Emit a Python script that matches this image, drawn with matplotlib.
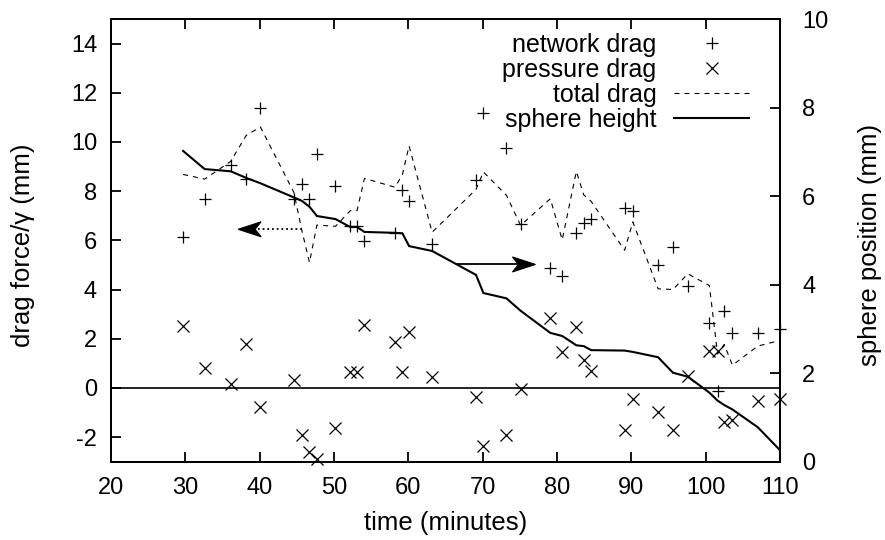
import matplotlib
matplotlib.use("Agg")
import matplotlib.pyplot as plt
from matplotlib.path import Path
from matplotlib.patches import PathPatch

plt.rcParams['font.family'] = ['Liberation Sans', 'DejaVu Sans']
plt.rcParams['axes.unicode_minus'] = False

# ---- data ----
time_min = [29.7, 32.6, 36.1, 38.2, 40.1, 44.6, 45.7, 46.7, 47.7, 50.2,
            52.2, 53.1, 54.1, 58.2, 59.2, 60.1, 63.2, 69.1, 70.1, 73.2,
            75.1, 79.1, 80.7, 82.6, 83.6, 84.6, 89.1, 90.2, 93.6, 95.6,
            97.6, 100.5, 101.6, 102.5, 103.6, 107.0, 110.0]
network_drag = [6.12, 7.68, 9.06, 8.50, 11.37, 7.68, 8.28, 7.68, 9.51, 8.21,
                6.58, 6.58, 5.96, 6.31, 8.04, 7.58, 5.85, 8.45, 11.16, 9.74,
                6.65, 4.86, 4.55, 6.31, 6.72, 6.88, 7.31, 7.20, 5.00, 5.71,
                4.14, 2.65, -0.13, 3.14, 2.22, 2.22, 2.39]
pressure_drag = [2.53, 0.81, 0.15, 1.77, -0.76, 0.32, -1.91, -2.62, -2.89, -1.64,
                 0.63, 0.63, 2.56, 1.85, 0.63, 2.26, 0.43, -0.38, -2.36, -1.91,
                 -0.04, 2.83, 1.47, 2.49, 1.13, 0.70, -1.71, -0.45, -0.97, -1.71,
                 0.50, 1.51, 1.51, -1.37, -1.30, -0.52, -0.46]
total_drag = [8.68, 8.49, 9.21, 10.27, 10.61, 7.95, 6.37, 5.10, 6.62, 6.57,
              7.21, 7.21, 8.52, 8.16, 8.67, 9.84, 6.33, 8.07, 8.78, 7.83,
              6.61, 7.69, 6.02, 8.80, 7.85, 7.58, 5.60, 6.75, 4.03, 4.00,
              4.64, 4.16, 1.38, 1.77, 0.92, 1.70, 1.93]
sphere_height = [7.02, 6.61, 6.56, 6.41, 6.29, 5.97, 5.89, 5.76, 5.55, 5.48,
                 5.30, 5.30, 5.19, 5.17, 5.16, 4.87, 4.76, 4.22, 3.81, 3.69,
                 3.41, 2.91, 2.84, 2.63, 2.61, 2.52, 2.51, 2.48, 2.36, 2.01,
                 1.92, 1.56, 1.38, 1.28, 1.18, 0.78, 0.26]

x_ticks = [20, 30, 40, 50, 60, 70, 80, 90, 100, 110]
y_ticks = [-2, 0, 2, 4, 6, 8, 10, 12, 14]
y2_ticks = [0, 2, 4, 6, 8, 10]

# annotation arrows (left-axis coordinates)
left_arrow_tail, left_arrow_head = (45.7, 6.45), (37.1, 6.45)
right_arrow_tail, right_arrow_head = (66.5, 5.02), (77.1, 5.02)

# ---- figure ----
W, H = 885, 540
fig = plt.figure(figsize=(W / 100, H / 100), dpi=100)
ax = fig.add_axes([111 / W, (H - 461.7) / H, (780 - 111) / W, (461.7 - 19) / H])
ax2 = ax.twinx()

TICK_FS = 17
LAB_FS = 18.5
LEG_FS = 18

ax.axhline(0, color='black', lw=1.2, zorder=1)

l_net, = ax.plot(time_min, network_drag, linestyle='none', marker='+',
                 ms=8.5, mew=0.9, color='black', clip_on=False,
                 label='network drag')
l_pr, = ax.plot(time_min, pressure_drag, linestyle='none', marker='x',
                ms=8, mew=0.9, color='black', clip_on=False,
                label='pressure drag')
l_tot, = ax.plot(time_min, total_drag, color='black', lw=0.8,
                 dashes=(4.5, 4.5), label='total drag')
l_sph, = ax2.plot(time_min, sphere_height, color='black', lw=1.5,
                  solid_joinstyle='miter', label='sphere height')


def barbed_head(axis, tip, direction, length_px=23, half_w_px=7.5, notch_px=6):
    """Filled gnuplot-style barbed arrow head drawn in display space."""
    tx, ty = axis.transData.transform(tip)
    d = direction
    back = tx - d * length_px
    verts = [(tx, ty), (back, ty + half_w_px), (back + d * notch_px, ty),
             (back, ty - half_w_px), (tx, ty)]
    codes = [Path.MOVETO, Path.LINETO, Path.LINETO, Path.LINETO, Path.CLOSEPOLY]
    inv = axis.transData.inverted()
    verts = [tuple(inv.transform(v)) for v in verts]
    axis.add_patch(PathPatch(Path(verts, codes), facecolor='black',
                             edgecolor='black', lw=0.8, zorder=4))


ax.set_xlim(20, 110)
ax.set_ylim(-3, 15)
ax2.set_ylim(0, 10)

# arrows
ax.plot([left_arrow_tail[0], left_arrow_head[0] + 1.5],
        [left_arrow_tail[1], left_arrow_head[1]], color='black', lw=1.3,
        linestyle=(0, (1, 1.6)))
barbed_head(ax, left_arrow_head, -1)
ax.plot([right_arrow_tail[0], right_arrow_head[0] - 1.5],
        [right_arrow_tail[1], right_arrow_head[1]], color='black', lw=1.3)
barbed_head(ax, right_arrow_head, 1)

ax.set_xticks(x_ticks)
ax.set_yticks(y_ticks)
ax2.set_yticks(y2_ticks)

for a in (ax, ax2):
    for s in a.spines.values():
        s.set_linewidth(1.4)

ax.tick_params(axis='x', direction='in', top=True, length=7.5, width=1.3,
               labelsize=TICK_FS, pad=11)
ax.tick_params(axis='y', direction='in', left=True, right=False, length=7.5,
               width=1.3, labelsize=TICK_FS, pad=10)
ax2.tick_params(axis='y', direction='in', right=True, length=7.5, width=1.3,
                labelsize=TICK_FS, pad=16)

ax.set_xlabel('time (minutes)', fontsize=LAB_FS)
ax.set_ylabel('drag force/γ (mm)', fontsize=LAB_FS)
ax2.set_ylabel('sphere position (mm)', fontsize=LAB_FS)
ax.xaxis.set_label_coords(0.5, -0.138)
ax.xaxis.label.set_va('center')
ax.yaxis.set_label_coords(-0.1315, 0.49)
ax.yaxis.label.set_va('center')
ax2.yaxis.set_label_coords(1.1345, 0.49)
ax2.yaxis.label.set_va('center')

leg = ax2.legend([l_net, l_pr, l_tot, l_sph],
                 ['network drag', 'pressure drag', 'total drag', 'sphere height'],
                 loc='upper right', bbox_to_anchor=(749 / W, 1 - 33 / H),
                 bbox_transform=fig.transFigure, frameon=False,
                 markerfirst=False, fontsize=LEG_FS, borderpad=0,
                 borderaxespad=0, handlelength=3.0, handletextpad=0.7,
                 labelspacing=0.04, numpoints=1)

fig.savefig('out.png', dpi=100)
